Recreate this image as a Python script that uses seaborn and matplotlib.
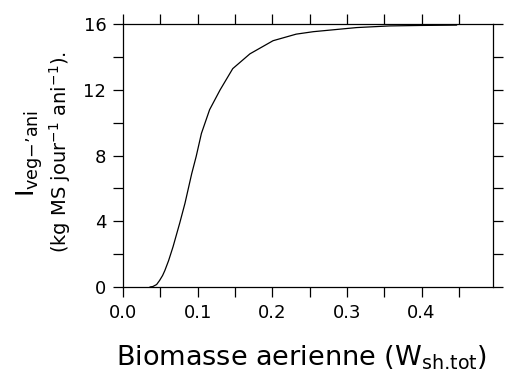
import numpy as np
import pandas as pd
import seaborn as sns
from matplotlib import pyplot as plt
from matplotlib.ticker import MultipleLocator

# courbe : biomasse aerienne -> ingestion
biomasse = [0.036, 0.040, 0.045, 0.049, 0.053, 0.056, 0.061, 0.067, 0.076, 0.083, 0.092,
            0.098, 0.105, 0.116, 0.130, 0.147, 0.170, 0.201, 0.232, 0.255, 0.313,
            0.357, 0.400, 0.447]
ingestion = [0.0, 0.03, 0.15, 0.4, 0.7, 1.0, 1.6, 2.45, 3.9, 5.1, 6.9,
             7.95, 9.35, 10.8, 12.0, 13.3, 14.2, 15.0, 15.4, 15.55, 15.8,
             15.9, 15.93, 15.95]

df = pd.DataFrame({"x": biomasse, "y": ingestion})

sns.set_style("ticks")
plt.rcParams['font.family'] = ['DejaVu Sans']
plt.rcParams['text.color'] = 'black'
plt.rcParams['xtick.color'] = 'black'
plt.rcParams['ytick.color'] = 'black'

fig = plt.figure(figsize=(5.09, 3.76), dpi=100)
ax = fig.add_axes([0.2417, 0.2367, 0.9676 - 0.2417, 0.9354 - 0.2367])
sns.lineplot(data=df, x="x", y="y", ax=ax, color="black", linewidth=0.9)

ax.set_xlim(0, 0.495)
ax.set_ylim(0, 16)
ax.xaxis.set_major_locator(MultipleLocator(0.1))
ax.xaxis.set_minor_locator(MultipleLocator(0.05))
ax.yaxis.set_major_locator(MultipleLocator(4))
ax.yaxis.set_minor_locator(MultipleLocator(2))
ax.xaxis.set_major_formatter(plt.FuncFormatter(lambda v, p: "%.1f" % v))
ax.tick_params(which="both", direction="out", length=7, width=0.9, color="black",
               top=True, right=True, labelsize=13, pad=5, labelcolor="black")
for s in ax.spines.values():
    s.set_linewidth(0.9)
    s.set_color("black")
ax.set_xlabel("")
ax.set_ylabel("")

fig.text(0.593, 0.029, "Biomasse aerienne (W$_\\mathregular{sh\u2024tot}$)",
         ha="center", va="baseline", fontsize=19.5)
fig.text(0.058, 0.593, "I$_\\mathregular{veg{-}\u2019ani}$", rotation=90,
         ha="center", va="center", fontsize=18)
fig.text(0.118, 0.596, "(kg MS jour$^{-1}$ ani$^{-1}$).", rotation=90,
         ha="center", va="center", fontsize=14)

plt.savefig("out.png", dpi=100)
